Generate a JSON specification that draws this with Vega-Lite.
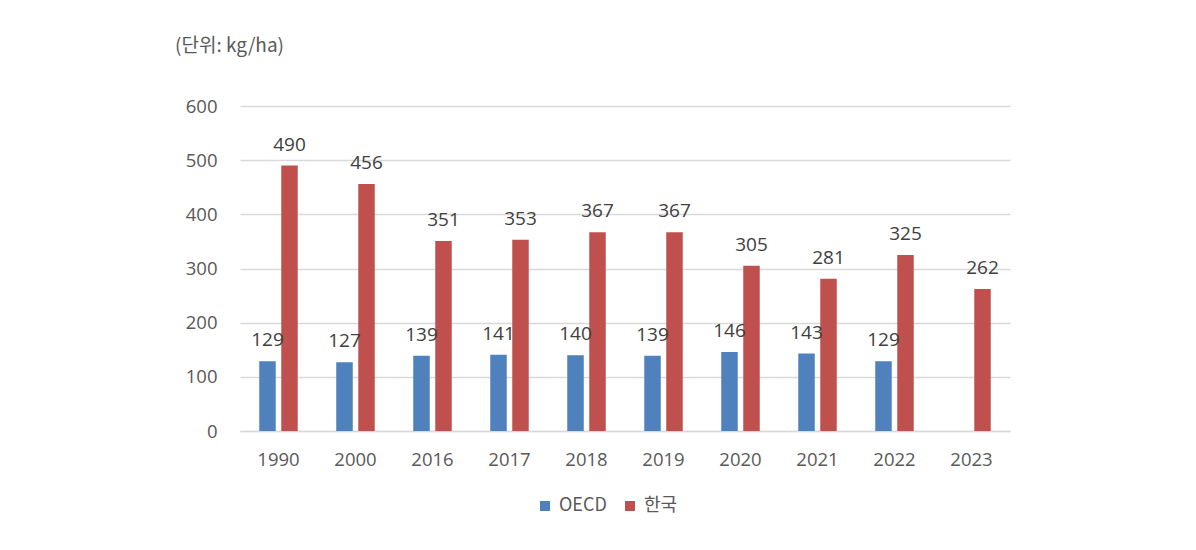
{
  "$schema": "https://vega.github.io/schema/vega-lite/v6.json",
  "autosize": "none",
  "width": 770,
  "height": 325,
  "padding": {"left": 240, "top": 106, "right": 186, "bottom": 119},
  "background": "white",
  "config": {"view": {"stroke": null}, "font": "Open Sans"},
  "title": {
    "text": "(단위: kg/ha)",
    "anchor": "start",
    "frame": "group",
    "dx": -65,
    "offset": 41,
    "fontSize": 19,
    "fontWeight": "normal",
    "color": "#595959",
    "font": "Noto Sans CJK KR"
  },
  "data": {
    "values": [
      {"year": "1990", "series": "OECD", "value": 129},
      {"year": "1990", "series": "한국", "value": 490},
      {"year": "2000", "series": "OECD", "value": 127},
      {"year": "2000", "series": "한국", "value": 456},
      {"year": "2016", "series": "OECD", "value": 139},
      {"year": "2016", "series": "한국", "value": 351},
      {"year": "2017", "series": "OECD", "value": 141},
      {"year": "2017", "series": "한국", "value": 353},
      {"year": "2018", "series": "OECD", "value": 140},
      {"year": "2018", "series": "한국", "value": 367},
      {"year": "2019", "series": "OECD", "value": 139},
      {"year": "2019", "series": "한국", "value": 367},
      {"year": "2020", "series": "OECD", "value": 146},
      {"year": "2020", "series": "한국", "value": 305},
      {"year": "2021", "series": "OECD", "value": 143},
      {"year": "2021", "series": "한국", "value": 281},
      {"year": "2022", "series": "OECD", "value": 129},
      {"year": "2022", "series": "한국", "value": 325},
      {"year": "2023", "series": "한국", "value": 262}
    ]
  },
  "encoding": {
    "x": {
      "field": "year",
      "type": "nominal",
      "sort": null,
      "scale": {"paddingInner": 0.5, "paddingOuter": 0.25},
      "axis": {
        "title": null,
        "labelAngle": 0,
        "labelFontSize": 18.5,
        "labelColor": "#595959",
        "labelPadding": 19,
        "ticks": false,
        "domainColor": "#d9d9d9",
        "domainWidth": 1.5
      }
    },
    "xOffset": {
      "field": "series",
      "type": "nominal",
      "sort": ["OECD", "한국"],
      "scale": {"domain": ["OECD", "한국"], "paddingInner": 0.25, "paddingOuter": 0}
    },
    "y": {
      "field": "value",
      "type": "quantitative",
      "scale": {"domain": [0, 600]},
      "axis": {
        "title": null,
        "values": [0, 100, 200, 300, 400, 500, 600],
        "labelFontSize": 18.5,
        "labelColor": "#595959",
        "labelPadding": 23,
        "ticks": false,
        "domain": false,
        "gridColor": "#d9d9d9",
        "gridWidth": 1.5
      }
    }
  },
  "layer": [
    {
      "mark": {"type": "bar"},
      "encoding": {
        "color": {
          "field": "series",
          "type": "nominal",
          "scale": {"domain": ["OECD", "한국"], "range": ["#4f81bd", "#c0504d"]},
          "legend": {
            "title": null,
            "orient": "none",
            "legendX": 296,
            "legendY": 391,
            "direction": "horizontal",
            "symbolType": "square",
            "symbolSize": 100,
            "symbolStrokeWidth": 0,
            "labelFontSize": 18,
            "labelColor": "#595959",
            "labelFont": "Noto Sans CJK KR",
            "columnPadding": 14,
            "labelOffset": 5
          }
        }
      }
    },
    {
      "mark": {"type": "text", "baseline": "alphabetic", "dy": -15, "fontSize": 19, "color": "#404040"},
      "encoding": {
        "text": {"field": "value", "type": "quantitative"}
      }
    }
  ]
}
